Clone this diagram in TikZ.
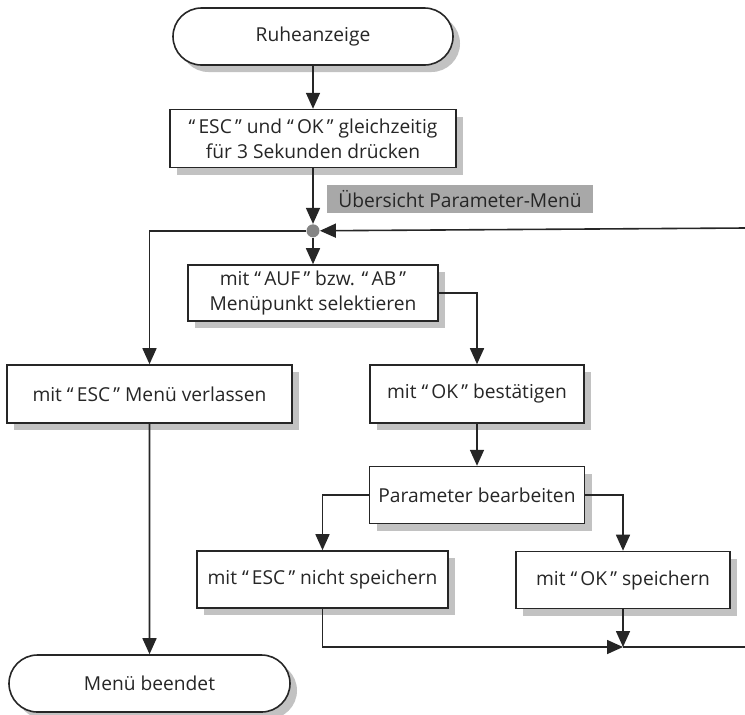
\documentclass[tikz,border=0pt]{standalone}
\usepackage{fontspec}
\setmainfont{Open Sans}
\usetikzlibrary{arrows.meta,positioning,shapes.misc,shadows}
\newcommand{\zit}[1]{“\,#1\,”}

\begin{document}
\begin{tikzpicture}[
    x=0.5pt, y=-0.5pt,
    box/.style={
        rectangle, draw=black!85, fill=white,
        align=center, inner sep=1pt, line width=0.8pt,
        font=\fontsize{9.6}{12.5}\selectfont, text=black!85,
        general shadow={fill=black!24, shadow xshift=3.5pt, shadow yshift=-3.5pt}
    },
    term/.style={
        box, rounded rectangle
    },
    tag/.style={
        rectangle, fill=black!34, inner sep=1pt,
        font=\fontsize{9.6}{12.5}\selectfont, text=black!85
    },
    dot/.style={
        circle, fill=black!48, inner sep=0pt, minimum size=6.5pt
    },
    arrow/.style={
        -{Triangle[length=8pt,width=7pt]}, line width=0.8pt, draw=black!85
    },
    wire/.style={
        line width=0.8pt, draw=black!85
    }
]
\useasboundingbox (0,0) rectangle (745,714);

% Nodes
\node[term, minimum width=142pt, minimum height=28.5pt] (ruhe) at (313,36.5) {Ruheanzeige};
\node[box, minimum width=143pt, minimum height=29pt, below=21.5pt of ruhe] (start) {\zit{ESC} und \zit{OK} gleichzeitig\\für 3 Sekunden drücken};
\node[dot, below=27.75pt of start] (knoten) {};
\node[tag, minimum width=133pt, minimum height=14pt] (uebersicht) at (460,199) {Übersicht Parameter-Menü};
\node[box, minimum width=125pt, minimum height=28pt, below=13.25pt of knoten] (waehlen) {mit \zit{AUF} bzw. \zit{AB}\\Menüpunkt selektieren};
\node[box, minimum width=142.5pt, minimum height=29pt] (verlassen) at (149.5,394) {mit \zit{ESC} Menü verlassen};
\node[box, minimum width=107pt, minimum height=29pt] (bestaetigen) at (477,394) {mit \zit{OK} bestätigen};
\node[box, minimum width=107.5pt, minimum height=28.5pt, below=21pt of bestaetigen] (bearbeiten) {Parameter bearbeiten};
\node[box, minimum width=125.5pt, minimum height=28.5pt] (nicht) at (322.5,579.5) {mit \zit{ESC} nicht speichern};
\node[box, minimum width=107pt, minimum height=28.5pt] (speichern) at (623,580) {mit \zit{OK} speichern};
\node[term, minimum width=142.5pt, minimum height=28.5pt] (ende) at (149.5,683.5) {Menü beendet};

% Loose ends
\coordinate (rueck) at (745,228);
\coordinate (sammel) at (623,647);
\coordinate (weiter) at (745,647);

% Arrows
\draw[arrow] (ruhe) -- (start);
\draw[arrow] (start) -- (knoten);
\draw[arrow] (rueck) -- (knoten);
\draw[arrow] (knoten) -- (waehlen);
\draw[arrow] (knoten) -| (verlassen);
\draw[arrow] (waehlen.east) -| (bestaetigen);
\draw[arrow] (bestaetigen) -- (bearbeiten);
\draw[arrow] (bearbeiten.west) -| (nicht);
\draw[arrow] (bearbeiten.east) -| (speichern);
\draw[arrow] (speichern) -- (sammel);
\draw[arrow] (nicht) |- (sammel);
\draw[wire] (sammel) -- (weiter);
\draw[arrow] (verlassen) -- (ende);

\end{tikzpicture}
\end{document}
